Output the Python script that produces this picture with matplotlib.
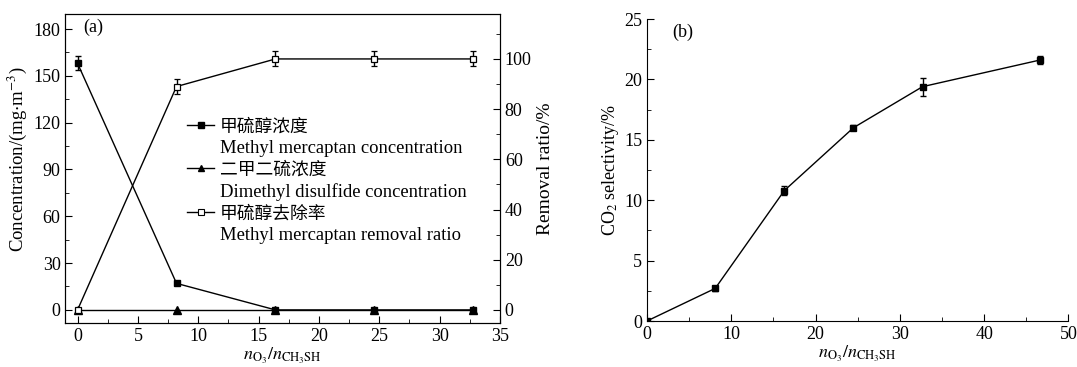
import matplotlib
matplotlib.use("Agg")
import matplotlib.pyplot as plt
from matplotlib.lines import Line2D
from matplotlib.ticker import MultipleLocator

plt.rcParams['font.family'] = ['Liberation Serif', 'Noto Sans CJK SC']
plt.rcParams['mathtext.fontset'] = 'stix'
plt.rcParams['font.size'] = 13

# panel (a)
x_a = [0, 8.2, 16.4, 24.6, 32.8]
mm_conc = [158, 17, 0, 0, 0]
mm_conc_err = [4.5, 1.0, 0.5, 0.5, 0.5]
dmds_conc = [0, 0, 0, 0, 0]
removal = [0, 89, 100, 100, 100]
removal_err = [0.5, 3, 3, 3, 3]

# panel (b)
x_b = [0, 8.1, 16.3, 24.5, 32.7, 46.6]
co2_sel = [0, 2.7, 10.8, 16.0, 19.4, 21.6]
co2_err = [0, 0.2, 0.35, 0.2, 0.75, 0.3]

labels_cn = ['甲硫醇浓度', '二甲二硫浓度', '甲硫醇去除率']
labels_en = ['Methyl mercaptan concentration', 'Dimethyl disulfide concentration',
             'Methyl mercaptan removal ratio']

fig = plt.figure(figsize=(10.77, 3.67), dpi=100)
ax1 = fig.add_axes([0.0608, 0.1207, 0.4034, 0.8411])
ax2 = ax1.twinx()
axb = fig.add_axes([0.6007, 0.1253, 0.3913, 0.8229])

lw = 1.0
ax1.errorbar(x_a, mm_conc, yerr=mm_conc_err, color='black', marker='s', ms=5,
             lw=lw, capsize=2.5, elinewidth=1, zorder=3)
ax1.plot(x_a, dmds_conc, color='black', marker='^', ms=5.5, lw=lw, zorder=2)
ax2.errorbar(x_a, removal, yerr=removal_err, color='black', marker='s', ms=5,
             mfc='white', mew=0.9, lw=lw, capsize=2.5, elinewidth=1, zorder=4)

ax1.set_xlim(-1, 35)
ax1.set_ylim(-8.2, 189.6)
ax1.xaxis.set_major_locator(MultipleLocator(5))
ax1.xaxis.set_minor_locator(MultipleLocator(2.5))
ax1.yaxis.set_major_locator(MultipleLocator(30))
ax1.yaxis.set_minor_locator(MultipleLocator(15))
ax2.yaxis.set_minor_locator(MultipleLocator(10))
ax2.set_yticks([0, 20, 40, 60, 80, 100])
ax2.set_ylim(-5.1, 117.9)

for a in (ax1, ax2):
    a.tick_params(which='both', direction='in', top=False)
    a.tick_params(which='major', length=5, labelsize=13)
    a.tick_params(which='minor', length=3)
ax1.tick_params(axis='y', right=False, which='both')
ax2.tick_params(axis='y', left=False, which='both')

ax1.set_xlabel(r'$n_{\mathrm{O_3}}/n_{\mathrm{CH_3SH}}$', fontsize=13, labelpad=1)
ax1.set_ylabel(r'Concentration/(mg$\cdot$m$^{-3}$)', fontsize=13.5)
ax1.yaxis.set_label_coords(-0.083, 0.53)
ax2.set_ylabel('Removal ratio/%', fontsize=14, labelpad=4)
ax1.text(0.04, 0.985, '(a)', transform=ax1.transAxes, fontsize=13, va='top')

blank = Line2D([], [], linestyle='none')
handles = [
    Line2D([], [], color='black', marker='s', ms=4, lw=lw), blank,
    Line2D([], [], color='black', marker='^', ms=4.5, lw=lw), blank,
    Line2D([], [], color='black', marker='s', ms=4, mfc='white', mew=0.8, lw=lw), blank,
]
labs = [labels_cn[0], labels_en[0], labels_cn[1], labels_en[1], labels_cn[2], labels_en[2]]
leg = ax2.legend(handles, labs, loc='upper left', bbox_to_anchor=(0.2635, 0.689),
                 frameon=False, handlelength=1.45, handletextpad=0.3,
                 labelspacing=0.22, borderaxespad=0, fontsize=13.4)
for i, t in enumerate(leg.get_texts()):
    if i % 2 == 0:
        t.set_family(['Noto Sans CJK SC'])
        t.set_fontsize(12.8)

# panel (b)
axb.errorbar(x_b, co2_sel, yerr=co2_err, color='black', marker='s', ms=5,
             lw=lw, capsize=2.5, elinewidth=1)
axb.set_xlim(0, 50)
axb.set_ylim(0, 25)
axb.xaxis.set_major_locator(MultipleLocator(10))
axb.xaxis.set_minor_locator(MultipleLocator(5))
axb.yaxis.set_major_locator(MultipleLocator(5))
axb.yaxis.set_minor_locator(MultipleLocator(2.5))
axb.spines['top'].set_visible(False)
axb.spines['right'].set_visible(False)
axb.tick_params(which='both', direction='in', labelsize=13)
axb.tick_params(which='major', length=5)
axb.tick_params(which='minor', length=3)
axb.set_xlabel(r'$n_{\mathrm{O_3}}/n_{\mathrm{CH_3SH}}$', fontsize=13, labelpad=1)
axb.set_ylabel(r'CO$_2$ selectivity/%', fontsize=13, labelpad=2)
axb.text(0.06, 0.985, '(b)', transform=axb.transAxes, fontsize=13, va='top')

fig.savefig('out.png', dpi=100)
